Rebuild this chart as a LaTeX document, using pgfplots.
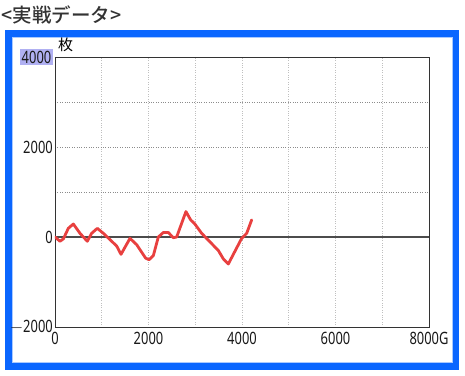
\documentclass[border=0pt]{standalone}
\usepackage{fontspec}
\usepackage{pgfplots}
\pgfplotsset{compat=1.18}
\setmainfont{Noto Sans}
\newfontfamily\tickfont[FakeStretch=0.76]{Noto Sans}
\newfontfamily\cjk{Noto Sans CJK JP}
\newfontfamily\cjkb{Noto Sans CJK JP Medium}
\definecolor{frameblue}{HTML}{0A66FF}
\definecolor{linered}{HTML}{E8403F}
\definecolor{hl}{HTML}{B0B0F2}
\begin{document}
\begin{tikzpicture}[x=1pt,y=1pt]
\fill[white] (0,0) rectangle (465,-375);
\node[anchor=west,text=black!80,font=\cjkb\fontsize{19.5}{21}\selectfont,inner sep=0] at (1.5,-15) {<実戦データ>};
\draw[frameblue,line width=6.5pt] (8.25,-33.25) rectangle (455.75,-366.25);
\draw[frameblue!35,line width=0.8pt] (11.9,-36.9) rectangle (452.1,-362.6);
\begin{axis}[
  at={(55pt,-327pt)}, anchor=south west,
  scale only axis, width=374pt, height=270pt,
  xmin=0, xmax=8000, ymin=-2000, ymax=4000,
  xtick={0,2000,4000,6000,8000},
  xticklabels={0,2000,4000,6000,8000G},
  ytick={-2000,0,2000,4000},
  yticklabels={$-$2000,0,2000,{\setlength{\fboxsep}{1.5pt}\colorbox{hl}{4000}}},
  minor xtick={1000,3000,5000,7000},
  minor ytick={1000,3000},
  grid=both,
  x grid style={black!25, dotted, line width=0.6pt},
  y grid style={black!45, dotted, line width=0.6pt},
  axis line style={black!80, line width=0.9pt},
  major tick length=0pt, minor tick length=0pt,
  tick label style={font=\tickfont\fontsize{17}{19}\selectfont, text=black!90},
  /pgf/number format/assume math mode=true,
  yticklabel style={inner sep=1pt, xshift=-1pt},
  xticklabel style={yshift=-2pt},
  scaled ticks=false,
  clip=true,
]
\addplot[black!70, line width=1.4pt, forget plot] coordinates {(0,0) (8000,0)};
\addplot[linered, line width=2.8pt, line join=round, line cap=round] coordinates {
(0,0) (107,-95) (180,-40) (285,193) (392,289) (535,82) (691,-95) (784,82)
(905,193) (1034,82) (1319,-200) (1412,-385) (1604,-30) (1747,-170) (1939,-470)
(2011,-505) (2103,-415) (2210,0) (2317,100) (2424,100) (2531,-15) (2602,0)
(2801,565) (2902,380) (2994,285) (3137,82) (3494,-300) (3600,-485) (3707,-600)
(3993,-30) (4100,82) (4207,380)
};
\end{axis}
\node[anchor=west,font=\cjk\fontsize{15}{17}\selectfont,inner sep=0] at (58,-45) {枚};
\end{tikzpicture}
\end{document}
